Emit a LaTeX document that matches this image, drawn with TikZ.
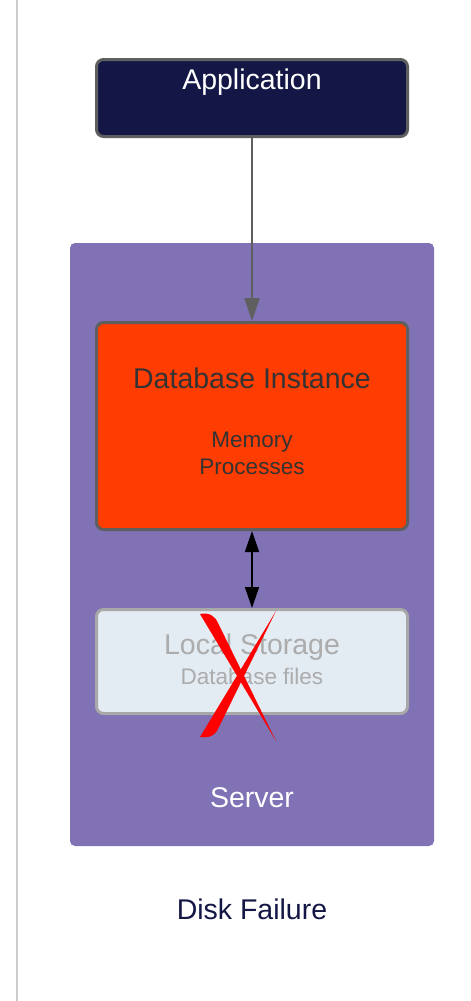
\documentclass[tikz,border=0pt]{standalone}
\usepackage{fontspec}
\setmainfont{Liberation Sans}
\usetikzlibrary{arrows.meta}
\definecolor{navy}{HTML}{141745}
\definecolor{edgegray}{HTML}{5F5F5F}
\definecolor{dbred}{HTML}{FF3D00}
\definecolor{textdark}{HTML}{333333}
\definecolor{serverpurple}{HTML}{8072B4}
\definecolor{storefill}{HTML}{E3EBF3}
\definecolor{storeedge}{HTML}{A8A8A8}
\definecolor{storetext}{HTML}{ACACAC}
\definecolor{rulegray}{HTML}{CCCCCC}
\definecolor{crossred}{HTML}{FF0000}
\tikzset{
  box/.style={rectangle, rounded corners=7pt, line width=3pt, inner sep=0pt, minimum width=311pt},
  bigtxt/.style={font=\fontsize{28.5}{34}\selectfont, inner sep=0pt, anchor=base},
  smalltxt/.style={font=\fontsize{22.5}{27}\selectfont, inner sep=0pt, anchor=base},
}
\begin{document}
\begin{tikzpicture}[x=1pt,y=-1pt]
\useasboundingbox (0,0) rectangle (471,1001);
\fill[white] (0,0) rectangle (471,1001);
% page rule at the left
\draw[rulegray, line width=1.2pt] (17,0) -- (17,1001);

% server container
\node[rectangle, rounded corners=5pt, fill=serverpurple, minimum width=364pt, minimum height=603pt, inner sep=0pt] (server) at (252,544.5) {};
\node[bigtxt, text=white] (serverlbl) at (252,807) {Server};

% application
\node[box, draw=edgegray, fill=navy, minimum height=77pt] (app) at (252,98) {};
\node[bigtxt, text=white] (applbl) at (252,89) {Application};

% database instance
\node[box, draw=edgegray, fill=dbred, minimum height=207pt] (db) at (252,426) {};
\node[bigtxt, text=textdark] (dblbl) at (252,388) {Database Instance};
\node[smalltxt, text=textdark] (memlbl) at (252,447) {Memory};
\node[smalltxt, text=textdark] (proclbl) at (252,474) {Processes};

% local storage
\node[box, draw=storeedge, fill=storefill, minimum height=104pt] (store) at (252,661.5) {};
\node[bigtxt, text=storetext] (storelbl) at (252,654) {Local Storage};
\node[smalltxt, text=storetext] (fileslbl) at (252,684) {Database files};

% connectors
\draw[edgegray, line width=2pt, -{Triangle[length=23pt,width=15pt]}] (app.south) -- (db.north);
\draw[black, line width=1.5pt, {Triangle[length=21pt,width=14pt]}-{Triangle[length=21pt,width=14pt]}] (db.south) -- (store.north);

% red cross over the storage
\fill[crossred] (200,614) .. controls (209,612) and (215,616) .. (218,623)
  -- (276,741) -- cycle;
\fill[crossred] (276,611) -- (217,731)
  .. controls (213,737) and (207,738) .. (200,737) -- cycle;

% caption
\node[bigtxt, text=navy] (caption) at (252,919) {Disk Failure};
\end{tikzpicture}
\end{document}
